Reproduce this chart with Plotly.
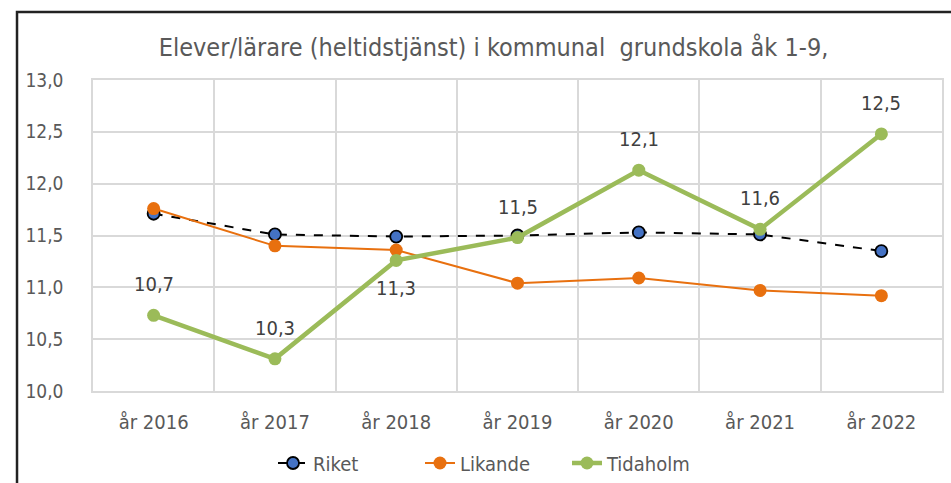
import plotly.graph_objects as go

years = ["år 2016", "år 2017", "år 2018", "år 2019", "år 2020", "år 2021", "år 2022"]
riket = [11.71, 11.51, 11.49, 11.50, 11.53, 11.51, 11.35]
likande = [11.76, 11.40, 11.36, 11.04, 11.09, 10.97, 10.92]
tidaholm = [10.73, 10.31, 11.26, 11.48, 12.13, 11.56, 12.48]
tid_label_above = [True, True, False, True, True, True, True]

FONT = "DejaVu Sans Condensed, Liberation Sans Narrow, sans-serif"

fig = go.Figure()
fig.add_trace(go.Scatter(
    x=years, y=riket, name="Riket", mode="lines+markers",
    line=dict(color="black", width=2, dash="dash"),
    marker=dict(color="#4472C4", size=12, line=dict(color="black", width=1.8)),
))
fig.add_trace(go.Scatter(
    x=years, y=likande, name="Likande", mode="lines+markers",
    line=dict(color="#E8700F", width=2),
    marker=dict(color="#E8700F", size=13),
))
fig.add_trace(go.Scatter(
    x=years, y=tidaholm, name="Tidaholm", mode="lines+markers",
    line=dict(color="#9BBB59", width=4.5),
    marker=dict(color="#9BBB59", size=13),
))

annotations = []
for xv, yv, above in zip(years, tidaholm, tid_label_above):
    annotations.append(dict(
        x=xv, y=yv, xref="x", yref="y", text=f"{yv:.1f}".replace(".", ","),
        showarrow=False, yshift=31 if above else -28,
        font=dict(size=20, color="#404040", family=FONT),
    ))

fig.update_layout(
    width=951, height=483, autosize=False,
    margin=dict(l=93, r=9, t=80, b=92, autoexpand=False),
    paper_bgcolor="white", plot_bgcolor="white",
    separators=", ",
    font=dict(family=FONT, color="#595959"),
    title=dict(text="Elever/lärare (heltidstjänst) i kommunal  grundskola åk 1-9,",
               x=0.519, xanchor="center", y=1 - 47 / 483, yanchor="middle",
               yref="container", xref="container",
               font=dict(size=25, color="#595959", family=FONT)),
    showlegend=True,
    legend=dict(orientation="h", x=273 / 951, xanchor="left", y=1 - 463 / 483,
                xref="container", yref="container", yanchor="middle",
                font=dict(size=20, color="#595959", family=FONT),
                entrywidth=102, traceorder="normal"),
    annotations=annotations,
    shapes=[dict(type="rect", xref="paper", yref="paper",
                 x0=-0.0895, x1=1.05, y0=-0.4, y1=1.2186,
                 line=dict(color="#222222", width=2.5), fillcolor="rgba(0,0,0,0)",
                 layer="below")],
)
fig.update_xaxes(
    type="category", range=[-0.5, 6.5], tickson="boundaries", showgrid=True,
    gridcolor="#D9D9D9", gridwidth=1.5, showline=True, linecolor="#D9D9D9",
    linewidth=1.5, mirror=True,
    ticks="", tickfont=dict(size=20, color="#595959", family=FONT),
    ticklabelstandoff=12, automargin=False,
)
fig.update_yaxes(
    range=[10, 13], dtick=0.5, tickformat=".1f", showgrid=True, gridcolor="#D9D9D9",
    gridwidth=1.5, zeroline=False, showline=True, linecolor="#D9D9D9",
    linewidth=1.5, mirror=True, ticks="",
    tickfont=dict(size=19, color="#595959", family=FONT),
    ticklabelstandoff=24, automargin=False,
)

fig.write_html("out.html", config={"displayModeBar": False, "responsive": False},
               post_script="document.body.style.margin='0';")
